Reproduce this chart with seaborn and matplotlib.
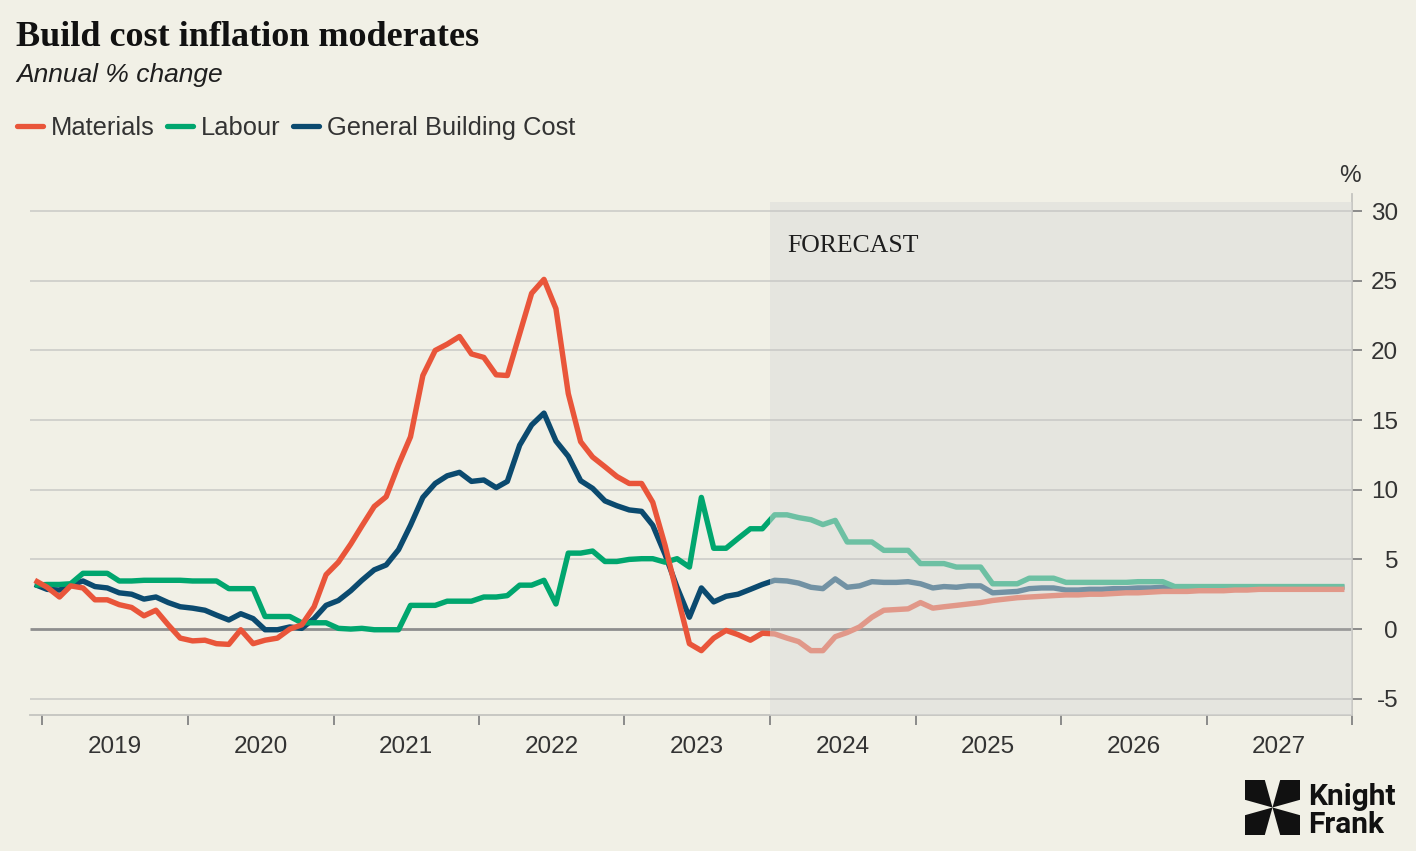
import matplotlib
matplotlib.use('Agg')
import matplotlib.pyplot as plt
import matplotlib.dates as mdates
from matplotlib.ticker import NullFormatter
from matplotlib.lines import Line2D
from matplotlib.patches import Polygon
import numpy as np
import pandas as pd
import seaborn as sns

# ---------------- data (monthly, Dec 2018 - Dec 2027) ----------------
dates = pd.date_range('2018-12-13', periods=109, freq=pd.DateOffset(months=1))

materials = [
    3.5, 3.0, 2.3, 3.1, 2.95, 2.1, 2.1, 1.75, 1.55, 0.95, 1.35, 0.3,
    -0.65, -0.85, -0.8, -1.05, -1.1, -0.05, -1.05, -0.8, -0.65, 0.0, 0.3, 1.6,
    3.9, 4.8, 6.1, 7.4, 8.8, 9.5, 11.8, 13.8, 18.2, 20.0, 20.45, 21.0,
    19.75, 19.5, 18.25, 18.2, 21.2, 24.1, 25.1, 23.0, 16.9, 13.45, 12.35, 11.65,
    10.95, 10.45, 10.45, 9.1, 6.0, 2.5, -1.05, -1.55, -0.65, -0.1, -0.4, -0.8,
    -0.3, -0.35, -0.65, -0.9, -1.55, -1.55, -0.55, -0.25, 0.15, 0.85, 1.35, 1.4,
    1.45, 1.9, 1.5, 1.6, 1.7, 1.8, 1.9, 2.05, 2.15, 2.25, 2.3, 2.35,
    2.4, 2.45, 2.45, 2.5, 2.5, 2.55, 2.6, 2.6, 2.65, 2.7, 2.7, 2.7,
    2.75, 2.75, 2.75, 2.8, 2.8, 2.85, 2.85, 2.85, 2.85, 2.85, 2.85, 2.85,
    2.85,
]
labour = [
    3.15, 3.2, 3.2, 3.25, 4.0, 4.0, 4.0, 3.45, 3.45, 3.5, 3.5, 3.5,
    3.5, 3.45, 3.45, 3.45, 2.9, 2.9, 2.9, 0.9, 0.9, 0.9, 0.45, 0.45,
    0.45, 0.05, 0.0, 0.05, -0.05, -0.05, -0.05, 1.7, 1.7, 1.7, 2.0, 2.0,
    2.0, 2.3, 2.3, 2.4, 3.15, 3.15, 3.5, 1.8, 5.45, 5.45, 5.6, 4.85,
    4.85, 5.0, 5.05, 5.05, 4.8, 5.05, 4.45, 9.45, 5.8, 5.8, 6.5, 7.2,
    7.2, 8.2, 8.2, 8.0, 7.85, 7.5, 7.8, 6.25, 6.25, 6.25, 5.65, 5.65,
    5.65, 4.7, 4.7, 4.7, 4.45, 4.45, 4.45, 3.25, 3.25, 3.25, 3.65, 3.65,
    3.65, 3.35, 3.35, 3.35, 3.35, 3.35, 3.35, 3.4, 3.4, 3.4, 3.05, 3.05,
    3.05, 3.05, 3.05, 3.05, 3.05, 3.05, 3.05, 3.05, 3.05, 3.05, 3.05, 3.05,
    3.05,
]
general = [
    3.2, 2.85, 2.8, 3.15, 3.45, 3.05, 2.95, 2.6, 2.5, 2.15, 2.3, 1.9,
    1.6, 1.5, 1.35, 1.0, 0.65, 1.1, 0.75, -0.05, -0.05, 0.15, 0.05, 0.75,
    1.7, 2.05, 2.75, 3.5, 4.25, 4.6, 5.7, 7.45, 9.45, 10.45, 11.0, 11.25,
    10.6, 10.7, 10.15, 10.6, 13.2, 14.65, 15.5, 13.5, 12.4, 10.65, 10.1, 9.2,
    8.85, 8.55, 8.45, 7.45, 5.35, 3.0, 0.85, 2.95, 1.95, 2.35, 2.5, 2.85,
    3.2, 3.5, 3.45, 3.3, 3.0, 2.9, 3.6, 3.0, 3.1, 3.4, 3.35, 3.35,
    3.4, 3.25, 2.95, 3.05, 3.0, 3.1, 3.1, 2.6, 2.65, 2.7, 2.9, 2.95,
    2.95, 2.8, 2.8, 2.85, 2.85, 2.9, 2.9, 2.95, 2.95, 3.0, 3.0, 3.0,
    3.0, 3.0, 3.0, 3.0, 3.0, 3.0, 3.0, 3.0, 3.0, 3.0, 3.0, 3.0,
    3.0,
]

series_names = ['Materials', 'Labour', 'General Building Cost']
series_colors = ['#E9553A', '#00A66E', '#0B4A6F']
y_ticks = [-5, 0, 5, 10, 15, 20, 25, 30]

df = pd.DataFrame({'date': dates, 'Materials': materials, 'Labour': labour,
                   'General Building Cost': general})
long = df.melt(id_vars='date', var_name='series', value_name='value')

# ---------------- style ----------------
BG = '#F1F0E6'
TXT = '#333333'
sns.set_theme(style='white')
plt.rcParams['font.family'] = ['Liberation Sans', 'DejaVu Sans']

W, H = 1416, 851
fig = plt.figure(figsize=(W / 100, H / 100), dpi=100, facecolor=BG)
ax = fig.add_axes([30 / W, 1 - 715 / H, (1352 - 30) / W, (715 - 194) / H])
ax.set_facecolor(BG)

xmin, xmax = pd.Timestamp('2018-12-01'), pd.Timestamp('2028-01-01')
fstart = pd.Timestamp('2024-01-01')
ymin, ymax = -6.17, 31.23

# gridlines (forecast part drawn darker because the veil lightens it)
for y in y_ticks:
    if y == 0:
        ax.hlines(0, xmin, fstart, color='#8E8E8E', lw=2.0, zorder=1)
        ax.hlines(0, fstart, xmax, color='#5A5A5A', lw=2.0, zorder=1)
    else:
        ax.hlines(y, xmin, fstart, color='#CFCFCB', lw=1.3, zorder=1)
        ax.hlines(y, fstart, xmax, color='#BDBDBA', lw=1.3, zorder=1)

palette = dict(zip(series_names, series_colors))
sns.lineplot(data=long, x='date', y='value', hue='series',
             hue_order=['General Building Cost', 'Labour', 'Materials'],
             palette=palette, linewidth=3.9, ax=ax, legend=False, zorder=2)
for ln in ax.lines:
    if ln.get_linewidth() > 3:
        ln.set_solid_joinstyle('round')
        ln.set_solid_capstyle('butt')

# forecast veil
ax.fill_between([fstart, xmax], [ymin, ymin], [30.65, 30.65],
                color=(218 / 255, 219 / 255, 217 / 255), alpha=0.5, lw=0, zorder=3)
ax.text(pd.Timestamp('2024-02-13'), 27.06, 'FORECAST', fontsize=18.5,
        family=['Liberation Serif', 'DejaVu Serif'], color='#1E1E1E',
        ha='left', va='baseline', zorder=5)

ax.set_xlim(xmin, xmax)
ax.set_ylim(ymin, ymax)
ax.set_xlabel('')
ax.set_ylabel('')

# x axis
ax.xaxis.set_major_locator(mdates.YearLocator())
ax.xaxis.set_major_formatter(NullFormatter())
ax.xaxis.set_minor_locator(mdates.MonthLocator(bymonth=7, bymonthday=2))
ax.xaxis.set_minor_formatter(mdates.DateFormatter('%Y'))
ax.tick_params(axis='x', which='major', length=7.2, width=1.2, color='#7A7A7A',
               direction='out', bottom=True)
ax.tick_params(axis='x', which='minor', length=0, pad=15, labelsize=17.5,
               labelcolor=TXT, bottom=True)

# y axis on the right
ax.yaxis.tick_right()
ax.set_yticks(y_ticks)
ax.set_yticklabels([str(v) for v in y_ticks])
ax.tick_params(axis='y', length=7.2, width=1.2, color='#7A7A7A', pad=26,
               labelsize=17.5, labelcolor=TXT, right=True, left=False)
for lab in ax.get_yticklabels():
    lab.set_horizontalalignment('right')

for s in ['left', 'top']:
    ax.spines[s].set_visible(False)
ax.spines['right'].set_color('#C4C4C0')
ax.spines['right'].set_linewidth(1.3)
ax.spines['bottom'].set_color('#C4C4C0')
ax.spines['bottom'].set_linewidth(1.3)

fig.text(1350 / W, 1 - 176 / H, '%', ha='center', va='center', fontsize=17.5, color=TXT)

# titles
fig.text(16 / W, 1 - 46 / H, 'Build cost inflation moderates', fontsize=26,
         family=['Liberation Serif', 'DejaVu Serif'], weight='bold', color='#111111',
         ha='left', va='baseline')
fig.text(16 / W, 1 - 82 / H, 'Annual % change', fontsize=19, style='italic',
         color='#1E1E1E', ha='left', va='baseline')

# legend
handles = [Line2D([0], [0], color=c, lw=3.8) for c in series_colors]
fig.legend(handles, series_names, loc='center left',
           bbox_to_anchor=(17 / W, 1 - 128 / H), ncol=3, frameon=False,
           fontsize=18.4, handlelength=1.0, handletextpad=0.32,
           columnspacing=0.5, borderpad=0, borderaxespad=0, labelcolor=TXT)

# logo
x0, y0, s = 1245, 780, 55
def P(px, py):
    return ((x0 + px * s) / W, 1 - (y0 + py * s) / H)
a = 0.36
kites = [
    [P(0, 0), P(a, 0), P(0.5, 0.5), P(0, a)],
    [P(1, 0), P(1 - a, 0), P(0.5, 0.5), P(1, a)],
    [P(0, 1), P(a, 1), P(0.5, 0.5), P(0, 1 - a)],
    [P(1, 1), P(1 - a, 1), P(0.5, 0.5), P(1, 1 - a)],
]
for k in kites:
    fig.patches.append(Polygon(k, closed=True, transform=fig.transFigure,
                               facecolor='#111111', edgecolor='none'))
fig.text(1308 / W, 1 - 805 / H, 'Knight', fontsize=21.5, weight='bold',
         family=['Roboto', 'DejaVu Sans'], color='#111111', va='baseline')
fig.text(1308 / W, 1 - 833 / H, 'Frank', fontsize=21.5, weight='bold',
         family=['Roboto', 'DejaVu Sans'], color='#111111', va='baseline')

fig.savefig('out.png', dpi=100, facecolor=BG)
